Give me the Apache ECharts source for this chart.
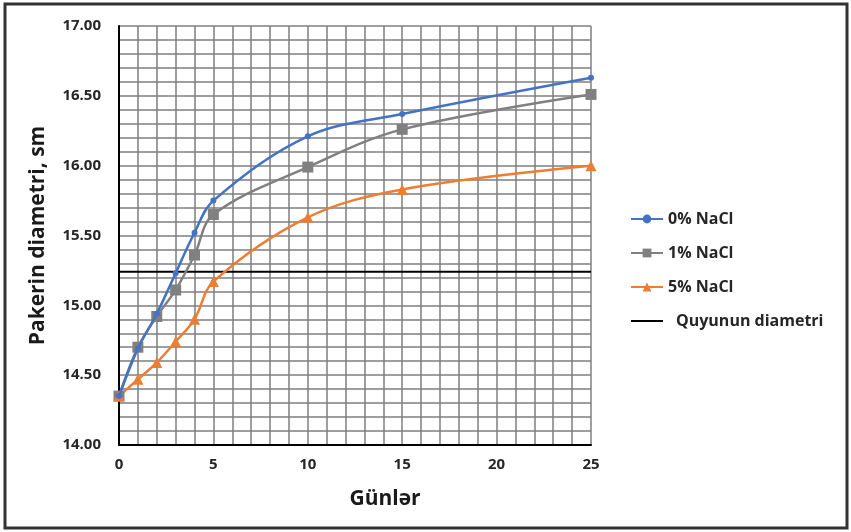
<!DOCTYPE html>
<html>
<head>
<meta charset="utf-8">
<script src="https://cdn.jsdelivr.net/npm/echarts@6/dist/echarts.min.js"></script>
<style>
  html, body { margin: 0; padding: 0; background: #fff; }
  #chart { width: 851px; height: 532px; }
</style>
</head>
<body>
<div id="chart"></div>
<script>
// günlər (x) və diametr (y) dəyərləri
const days = [0, 1, 2, 3, 4, 5, 10, 15, 25]
const nacl0 = [14.35, 14.69, 14.94, 15.23, 15.52, 15.75, 16.21, 16.37, 16.63]
const nacl1 = [14.35, 14.70, 14.92, 15.11, 15.36, 15.65, 15.99, 16.26, 16.51]
const nacl5 = [14.35, 14.47, 14.59, 14.74, 14.90, 15.17, 15.63, 15.83, 16.00]
const wellDiameter = 15.24
const wellDays = [0, 25]
const seriesNames = ['0% NaCl', '1% NaCl', '5% NaCl', 'Quyunun diametri']

const pairs = (ys) => days.map((d, i) => [d, ys[i]])

const font = 'Open Sans'
const mycharts = echarts.init(document.getElementById('chart'))
mycharts.setOption({
  animation: false,
  textStyle: { fontFamily: font },
  grid: { left: 119, right: 260, top: 26, bottom: 87 },
  legend: {
    orient: 'vertical',
    left: 625,
    top: 206,
    itemGap: 18,
    itemWidth: 32,
    itemHeight: 11,
    textStyle: { fontFamily: font, fontWeight: 'bold', fontSize: 16, color: '#262626' },
    data: [
      seriesNames[0],
      seriesNames[1],
      seriesNames[2],
      { name: seriesNames[3], itemStyle: { opacity: 0 }, textStyle: { padding: [0, 0, 0, 8] } },
    ],
  },
  xAxis: {
    type: 'value',
    min: 0,
    max: 25,
    interval: 5,
    name: 'Günlər',
    nameLocation: 'middle',
    nameGap: 44,
    nameTextStyle: { fontFamily: font, fontWeight: 'bold', fontSize: 21, color: '#1a1a1a', padding: [0, 0, 0, 60] },
    axisLine: { show: true, lineStyle: { color: '#000', width: 2 } },
    axisTick: { show: false },
    axisLabel: { margin: 12, fontFamily: font, fontWeight: 'bold', fontSize: 15, color: '#262626' },
    splitLine: { show: true, lineStyle: { color: '#7f7f7f', width: 1.5 } },
    minorTick: { show: false, splitNumber: 5 },
    minorSplitLine: { show: true, lineStyle: { color: '#7f7f7f', width: 1.5 } },
  },
  yAxis: {
    type: 'value',
    min: 14,
    max: 17,
    interval: 0.5,
    name: 'Pakerin diametri, sm',
    nameLocation: 'middle',
    nameGap: 70,
    nameTextStyle: { fontFamily: font, fontWeight: 'bold', fontSize: 21, color: '#1a1a1a' },
    axisLine: { show: true, lineStyle: { color: '#000', width: 2 } },
    axisTick: { show: false },
    axisLabel: {
      margin: 18,
      fontFamily: font,
      fontWeight: 'bold',
      fontSize: 15,
      color: '#262626',
      formatter: (v) => v.toFixed(2),
    },
    splitLine: { show: true, lineStyle: { color: '#7f7f7f', width: 1.5 } },
    minorTick: { show: false, splitNumber: 5 },
    minorSplitLine: { show: true, lineStyle: { color: '#7f7f7f', width: 1.5 } },
  },
  graphic: [
    {
      type: 'rect',
      shape: { x: 5, y: 4, width: 842, height: 524 },
      style: { fill: 'none', stroke: '#333', lineWidth: 3 },
      silent: true,
    },
  ],
  series: [
    {
      name: seriesNames[0],
      type: 'line',
      data: pairs(nacl0),
      smooth: 0.35,
      symbol: 'circle',
      symbolSize: 6,
      color: '#4472c4',
      lineStyle: { width: 2.5 },
      z: 4,
    },
    {
      name: seriesNames[1],
      type: 'line',
      data: pairs(nacl1),
      smooth: 0.35,
      symbol: 'rect',
      symbolSize: 11,
      color: '#808080',
      lineStyle: { width: 2.5 },
      z: 3,
    },
    {
      name: seriesNames[2],
      type: 'line',
      data: pairs(nacl5),
      smooth: 0.35,
      symbol: 'triangle',
      symbolSize: 11,
      color: '#ed7d31',
      lineStyle: { width: 2.5 },
      z: 3,
    },
    {
      name: seriesNames[3],
      type: 'line',
      data: wellDays.map((d) => [d, wellDiameter]),
      symbol: 'none',
      color: '#000',
      lineStyle: { width: 2 },
      z: 2,
    },
  ],
})
</script>
</body>
</html>
